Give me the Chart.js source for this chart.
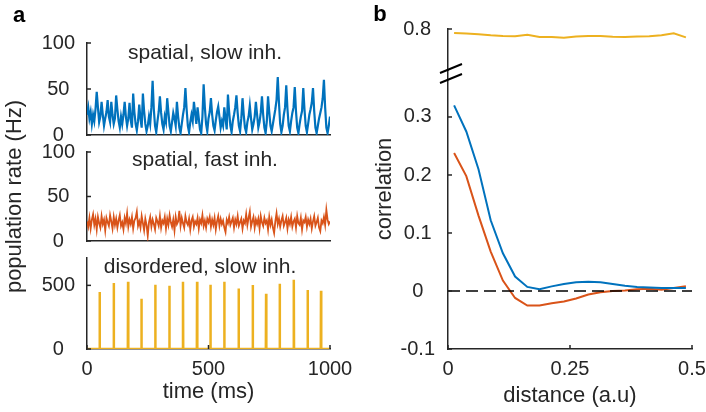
<!DOCTYPE html>
<html>
<head>
<meta charset="utf-8">
<script src="https://cdn.jsdelivr.net/npm/chart.js@4.4.1/dist/chart.umd.min.js"></script>
<style>
  html, body { margin: 0; padding: 0; background: #fff; }
  #wrap { position: relative; width: 706px; height: 412px; }
  #wrap canvas { position: absolute; left: 0; top: 0; }
</style>
</head>
<body>
<div id="wrap">
  <canvas id="slow" width="706" height="412"></canvas>
  <canvas id="fast" width="706" height="412"></canvas>
  <canvas id="disord" width="706" height="412"></canvas>
  <canvas id="corrTop" width="706" height="412"></canvas>
  <canvas id="corrLow" width="706" height="412"></canvas>
</div>
<script>
// panel a: population rate (Hz), one value every 5 ms from 0 to 1000 ms
const slowRate = [
  22,30,18,25,12,22,15,28,47,30,14,20,36,22,10,18,25,38,20,14,
  36,22,12,18,43,28,15,8,20,12,22,36,20,10,18,35,16,8,45,25,
  12,5,15,33,18,8,45,26,12,4,10,20,12,30,59,28,10,3,15,25,
  42,24,12,6,20,14,40,25,10,4,14,24,18,10,36,20,8,2,12,22,
  30,51,28,10,3,14,22,15,36,24,12,30,18,6,2,20,55,30,12,4,
  18,25,40,22,10,5,16,25,31,20,8,15,10,30,18,6,44,25,10,3,
  15,22,30,43,24,10,4,18,40,22,8,3,14,20,32,18,6,12,20,36,
  22,8,14,24,42,22,8,2,15,42,25,10,4,12,20,28,38,63,35,12,
  3,10,22,30,54,28,10,4,15,24,30,52,26,8,2,12,20,26,51,28,
  10,3,12,22,28,35,51,26,8,2,10,18,24,30,40,60,30,8,2,10,
  20
];
const fastRate = [
  22,16,26,14,24,30,18,25,13,27,20,15,28,19,24,12,26,21,17,29,
  22,14,27,18,25,15,23,29,17,21,13,26,20,31,16,24,19,27,14,23,
  26,33,17,22,15,28,20,12,25,18,6,21,27,16,24,19,13,26,22,17,
  28,15,23,20,27,14,25,18,29,21,16,24,12,27,19,22,34,17,26,20,
  15,28,21,18,25,13,23,27,16,22,19,26,14,24,20,29,17,23,15,25,
  21,27,16,24,18,26,13,22,28,17,25,19,23,15,10,24,20,27,18,22,
  26,15,24,19,28,17,21,25,14,23,20,30,18,26,33,16,22,27,15,24,
  19,25,14,28,21,17,26,20,23,13,27,18,24,15,9,22,31,19,25,16,
  23,28,17,21,26,14,24,19,27,16,22,25,15,28,20,18,26,13,23,21,
  27,16,24,19,25,14,22,28,17,21,26,15,11,23,20,27,18,35,24,19,22
];
const timeMs = slowRate.map((_, i) => i * 5);

// disordered network: population bursts (time in ms, peak rate in Hz)
const burstTimes = [52, 110, 169, 224, 281, 339, 395, 453, 508, 565, 624, 682, 737, 793, 851, 908, 963];
const burstRates = [448, 518, 529, 395, 505, 497, 529, 529, 505, 529, 476, 503, 435, 513, 545, 463, 458];

// panel b: correlation vs distance
const distance = [0.0125, 0.0375, 0.0625, 0.0875, 0.1125, 0.1375, 0.1625, 0.1875, 0.2125, 0.2375,
                  0.2625, 0.2875, 0.3125, 0.3375, 0.3625, 0.3875, 0.4125, 0.4375, 0.4625, 0.4875];
const corrSlow = [0.32, 0.275, 0.21, 0.122, 0.065, 0.025, 0.007, 0.003, 0.008, 0.012,
                  0.015, 0.016, 0.015, 0.012, 0.009, 0.007, 0.006, 0.005, 0.005, 0.005];
const corrFast = [0.238, 0.198, 0.13, 0.068, 0.018, -0.012, -0.025, -0.025, -0.021, -0.018,
                  -0.013, -0.006, -0.002, 0.0, 0.001, 0.003, 0.004, 0.002, 0.005, 0.008];
const corrDisord = [0.793, 0.792, 0.791, 0.789, 0.788, 0.7875, 0.790, 0.786, 0.786, 0.785,
                    0.787, 0.788, 0.788, 0.7865, 0.786, 0.787, 0.7875, 0.789, 0.7925, 0.7855];
const zeroX = [0, 0.5];
const zeroY = [0, 0];

const rateTicks = [0, 50, 100];
const burstTicks = [0, 500];
const timeTicks = [0, 500, 1000];
const distTicks = [0, 0.25, 0.5];
const corrTicks = [-0.1, 0, 0.1, 0.2, 0.3];
const corrTopTicks = [0.8];

const BLUE = '#0072BD', ORANGE = '#D95319', YELLOW = '#EDB120';
const AXIS = '#262626';
const FONT = '"Liberation Sans", Helvetica, Arial, sans-serif';

Chart.defaults.font.family = FONT;
Chart.defaults.font.size = 20;
Chart.defaults.color = AXIS;
Chart.defaults.animation = false;
Chart.defaults.events = [];
Chart.defaults.plugins.legend.display = false;
Chart.defaults.plugins.tooltip.enabled = false;
Chart.defaults.elements.point.radius = 0;

const pts = (xs, ys) => xs.map((x, i) => ({ x, y: ys[i] }));

function burstPoints() {
  const out = [{ x: 0, y: 0 }];
  burstTimes.forEach((t, i) => {
    out.push({ x: t - 1, y: 0 }, { x: t, y: burstRates[i] }, { x: t + 1, y: 0 });
  });
  out.push({ x: 1000, y: 0 });
  return out;
}

function yAxis(min, max, ticks, width, pad, title) {
  return {
    type: 'linear', min, max,
    afterFit: s => { s.width = width; },
    afterBuildTicks: s => { s.ticks = ticks.map(v => ({ value: v })); },
    grid: { display: false, drawTicks: false },
    border: { display: true, color: AXIS, width: 1.5 },
    ticks: { padding: pad, crossAlign: 'center', callback: v => String(v) },
    title: title
      ? { display: true, text: title, font: { size: 22 }, padding: { top: 2, bottom: 0 } }
      : { display: false }
  };
}

function xAxis(min, max, ticks, height, title, titlePad) {
  return {
    type: 'linear', min, max,
    afterFit: s => { s.height = height; s.paddingLeft = 0; s.paddingRight = 0; },
    afterBuildTicks: s => { s.ticks = ticks.map(v => ({ value: v })); },
    grid: { display: false, drawTicks: false },
    border: { display: true, color: AXIS, width: 1.5 },
    ticks: { display: ticks.length > 0, padding: 8, maxRotation: 0, autoSkip: false, callback: v => String(v) },
    title: title
      ? { display: true, text: title, font: { size: 22 }, padding: { top: 0, bottom: titlePad } }
      : { display: false }
  };
}

// matlab style ticks pointing into the axes
const innerTicks = {
  id: 'innerTicks',
  afterDraw(chart) {
    const { ctx, chartArea, scales } = chart;
    ctx.save();
    ctx.strokeStyle = AXIS;
    ctx.lineWidth = 1.5;
    scales.y.ticks.forEach(t => {
      const p = scales.y.getPixelForValue(t.value);
      ctx.beginPath(); ctx.moveTo(chartArea.left, p); ctx.lineTo(chartArea.left + 4, p); ctx.stroke();
    });
    if (scales.x.options.display !== false) {
      scales.x.ticks.forEach(t => {
        const p = scales.x.getPixelForValue(t.value);
        ctx.beginPath(); ctx.moveTo(p, chartArea.bottom); ctx.lineTo(p, chartArea.bottom - 4); ctx.stroke();
      });
    }
    ctx.restore();
  }
};

// panel letters, subplot titles, y label of panel b and the axis break
const notes = {
  id: 'notes',
  afterDraw(chart) {
    const ctx = chart.ctx;
    ctx.save();
    ctx.fillStyle = '#000';
    ctx.textAlign = 'center';
    ctx.textBaseline = 'middle';
    ctx.font = 'bold 22px ' + FONT;
    ctx.fillText('a', 19, 16);
    ctx.fillText('b', 380, 15);
    ctx.fillStyle = AXIS;
    ctx.font = '21px ' + FONT;
    ctx.textBaseline = 'alphabetic';
    ctx.fillText('spatial, slow inh.', 205, 59);
    ctx.fillText('spatial, fast inh.', 205, 166);
    ctx.fillText('disordered, slow inh.', 200, 273);
    ctx.save();
    ctx.font = '22px ' + FONT;
    ctx.textBaseline = 'middle';
    ctx.translate(385, 189);
    ctx.rotate(-Math.PI / 2);
    ctx.fillText('correlation', 0, 0);
    ctx.restore();
    ctx.strokeStyle = '#000';
    ctx.lineWidth = 2;
    ctx.beginPath();
    ctx.moveTo(440, 73); ctx.lineTo(462, 64);
    ctx.moveTo(440, 83); ctx.lineTo(462, 74);
    ctx.stroke();
    ctx.restore();
  }
};

function lineSet(data, color, width, extra) {
  return Object.assign({ data, borderColor: color, borderWidth: width, pointRadius: 0, tension: 0, fill: false }, extra || {});
}

new Chart(document.getElementById('slow'), {
  type: 'line',
  data: { datasets: [lineSet(pts(timeMs, slowRate), BLUE, 2.2)] },
  options: {
    responsive: false,
    layout: { padding: { left: 0, top: 43, right: 376, bottom: 277 } },
    scales: { x: xAxis(0, 1000, [], 0), y: yAxis(0, 100, rateTicks, 87, 12) }
  },
  plugins: [innerTicks]
});

new Chart(document.getElementById('fast'), {
  type: 'line',
  data: { datasets: [lineSet(pts(timeMs, fastRate), ORANGE, 1.8)] },
  options: {
    responsive: false,
    layout: { padding: { left: 0, top: 152, right: 376, bottom: 171 } },
    scales: { x: xAxis(0, 1000, [], 0), y: yAxis(0, 100, rateTicks, 87, 12, 'population rate (Hz)') }
  },
  plugins: [innerTicks]
});

new Chart(document.getElementById('disord'), {
  type: 'line',
  data: { datasets: [lineSet(burstPoints(), YELLOW, 2.5)] },
  options: {
    responsive: false,
    layout: { padding: { left: 0, top: 258, right: 376, bottom: 0 } },
    scales: { x: xAxis(0, 1000, timeTicks, 63, 'time (ms)', 7), y: yAxis(0, 715, burstTicks, 87, 12) }
  },
  plugins: [innerTicks]
});

new Chart(document.getElementById('corrTop'), {
  type: 'line',
  data: { datasets: [lineSet(pts(distance, corrDisord), YELLOW, 2)] },
  options: {
    responsive: false,
    layout: { padding: { left: 368, top: 29, right: 14, bottom: 342 } },
    scales: {
      x: { type: 'linear', min: 0, max: 0.5, display: false },
      y: yAxis(0.729, 0.8, corrTopTicks, 80, 17)
    }
  },
  plugins: [innerTicks]
});

new Chart(document.getElementById('corrLow'), {
  type: 'line',
  data: {
    datasets: [
      lineSet(pts(zeroX, zeroY), '#000', 1.5, { borderDash: [12, 6] }),
      lineSet(pts(distance, corrSlow), BLUE, 2),
      lineSet(pts(distance, corrFast), ORANGE, 2)
    ]
  },
  options: {
    responsive: false,
    layout: { padding: { left: 368, top: 70, right: 14, bottom: 0 } },
    scales: { x: xAxis(0, 0.5, distTicks, 63, 'distance (a.u)', 3), y: yAxis(-0.1, 0.381, corrTicks, 80, 13) }
  },
  plugins: [innerTicks, notes]
});
</script>
</body>
</html>
